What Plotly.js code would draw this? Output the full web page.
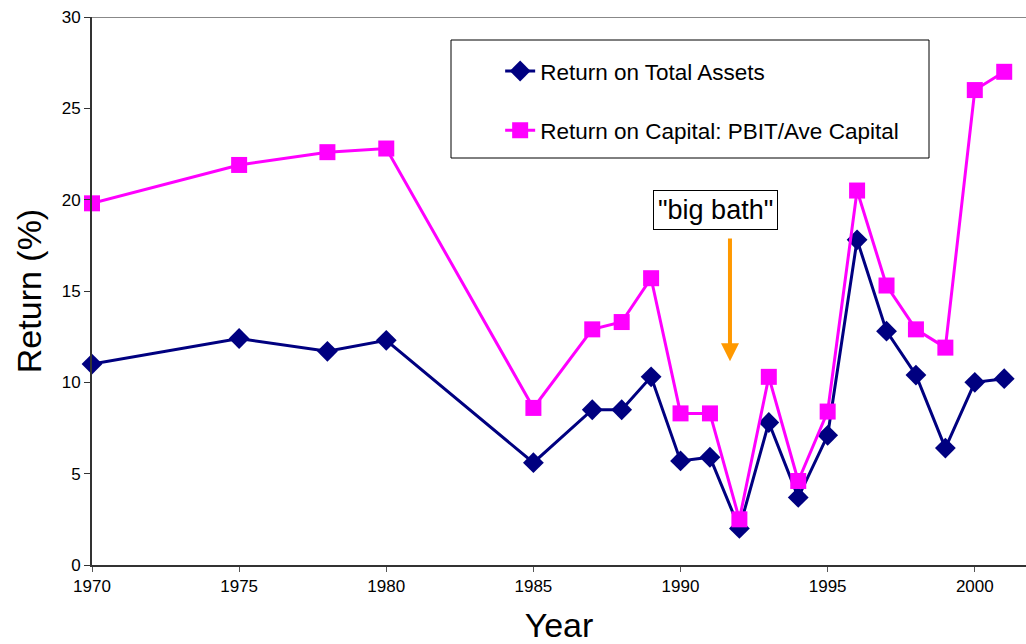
<!DOCTYPE html>
<html>
<head>
<meta charset="utf-8">
<script src="https://cdn.plot.ly/plotly-3.0.1.min.js"></script>
<style>html,body{margin:0;padding:0;background:#fff;}#chart{width:1026px;height:644px;}</style>
</head>
<body>
<div id="chart"></div>
<script>
const years = [1970, 1975, 1978, 1980, 1985, 1987, 1988, 1989, 1990, 1991, 1992, 1993, 1994, 1995, 1996, 1997, 1998, 1999, 2000, 2001];
const returnOnTotalAssets = [11.0, 12.4, 11.7, 12.3, 5.6, 8.5, 8.5, 10.3, 5.7, 5.9, 2.0, 7.8, 3.7, 7.1, 17.8, 12.8, 10.4, 6.4, 10.0, 10.2];
const returnOnCapital = [19.8, 21.9, 22.6, 22.8, 8.6, 12.9, 13.3, 15.7, 8.3, 8.3, 2.5, 10.3, 4.6, 8.4, 20.5, 15.3, 12.9, 11.9, 26.0, 27.0];
const seriesNames = ["Return on Total Assets", "Return on Capital: PBIT/Ave Capital"];
const xTicks = [1970, 1975, 1980, 1985, 1990, 1995, 2000];
const yTicks = [0, 5, 10, 15, 20, 25, 30];
const annotationText = '"big bath"';

const FONT = 'Liberation Sans, Arial, sans-serif';

const traces = [
  {
    x: years, y: returnOnTotalAssets, name: seriesNames[0], type: 'scatter', mode: 'lines+markers',
    line: {color: '#000080', width: 3},
    marker: {symbol: 'diamond', size: 16, color: '#000080'},
    legendgroup: 'a', cliponaxis: false
  },
  {
    x: years, y: returnOnCapital, name: seriesNames[1], type: 'scatter', mode: 'lines+markers',
    line: {color: '#FF00FF', width: 3},
    marker: {symbol: 'square', size: 16, color: '#FF00FF'},
    legendgroup: 'b', cliponaxis: false
  }
];

const layout = {
  width: 1026, height: 644,
  margin: {l: 92, r: 0, t: 17, b: 79},
  paper_bgcolor: '#ffffff', plot_bgcolor: '#ffffff',
  font: {family: FONT, color: '#000000'},
  showlegend: true,
  legend: {
    x: 0.437, y: 0.94, xanchor: 'left', yanchor: 'top',
    bgcolor: 'rgba(0,0,0,0)', borderwidth: 0,
    font: {family: FONT, size: 22.5, color: '#000000'},
    traceorder: 'grouped', tracegroupgap: 27
  },
  xaxis: {
    range: [1970, 2001.74], tickvals: xTicks, ticktext: xTicks.map(String),
    showgrid: false, zeroline: false,
    showline: true, linecolor: '#333333', linewidth: 2,
    ticks: 'outside', ticklen: 5, tickcolor: '#555555', tickwidth: 1,
    tickfont: {family: FONT, size: 17, color: '#000000'},
    title: {text: 'Year', font: {family: FONT, size: 34, color: '#000000'}, standoff: 18}
  },
  yaxis: {
    range: [0, 30], tickvals: yTicks,
    showgrid: false, zeroline: false,
    showline: true, linecolor: '#333333', linewidth: 2,
    ticks: 'outside', ticklen: 6, tickcolor: '#333333', tickwidth: 1,
    tickfont: {family: FONT, size: 17, color: '#000000'},
    title: {text: 'Return (%)', font: {family: FONT, size: 34, color: '#000000'}, standoff: 10}
  },
  shapes: [
    {type: 'line', xref: 'paper', yref: 'y', x0: 0, x1: 1, y0: 30, y1: 30, line: {color: '#888888', width: 2}},
    {type: 'rect', xref: 'paper', yref: 'paper', x0: (451-92)/934, x1: (929-92)/934, y0: (565-158)/548, y1: (565-40)/548,
     line: {color: '#000000', width: 1}, fillcolor: 'rgba(0,0,0,0)', layer: 'below'}
  ],
  annotations: [
    {x: 1991.2, y: 19.43, xref: 'x', yref: 'y', text: annotationText, showarrow: false,
     font: {family: FONT, size: 27, color: '#000000'}, bordercolor: '#000000', borderwidth: 1, borderpad: 4, bgcolor: '#ffffff'},
    {x: 1991.68, y: 11.15, ax: 1991.68, ay: 17.95, xref: 'x', yref: 'y', axref: 'x', ayref: 'y', text: '',
     showarrow: true, arrowhead: 2, arrowsize: 0.9, arrowwidth: 4, arrowcolor: '#FF9900'}
  ]
};

Plotly.newPlot('chart', traces, layout, {displayModeBar: false, staticPlot: true});
</script>
</body>
</html>
